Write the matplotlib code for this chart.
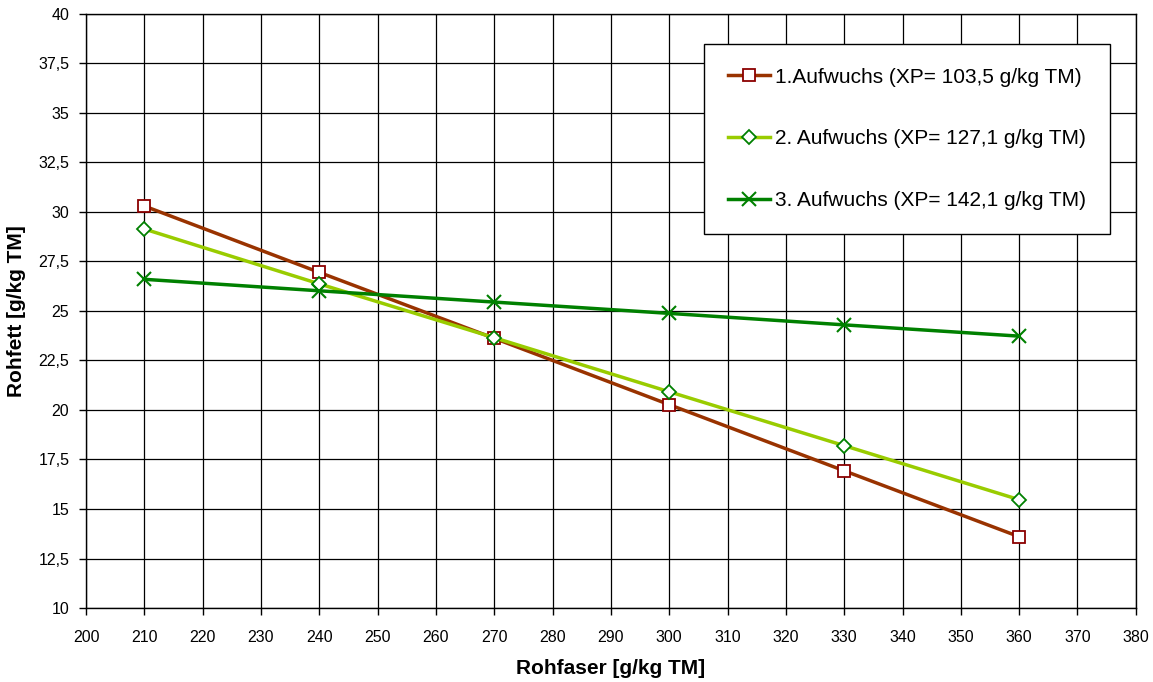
import matplotlib
matplotlib.use("Agg")
import matplotlib.pyplot as plt
import numpy as np

plt.rcParams['font.family'] = ['Liberation Sans', 'DejaVu Sans']

# Rohfaser values (x axis)
rohfaser = [210, 240, 270, 300, 330, 360]

# Rohfett values per Aufwuchs
aufwuchs1 = [30.3, 26.95, 23.62, 20.27, 16.93, 13.6]
aufwuchs2 = [29.14, 26.37, 23.65, 20.92, 18.2, 15.47]
aufwuchs3 = [26.6, 26.02, 25.45, 24.88, 24.3, 23.73]

labels = ['1.Aufwuchs (XP= 103,5 g/kg TM)',
          '2. Aufwuchs (XP= 127,1 g/kg TM)',
          '3. Aufwuchs (XP= 142,1 g/kg TM)']

x_ticks = np.arange(200, 381, 10)
y_ticks = np.arange(10, 40.1, 2.5)
y_ticklabels = [('%g' % v).replace('.', ',') for v in y_ticks]

fig = plt.figure(figsize=(11.53, 6.82), dpi=100)
ax = fig.add_axes([0.0746, 0.1085, 0.9105, 0.871])

ax.plot(rohfaser, aufwuchs1, color='#993300', lw=2.5, marker='s', ms=9,
        mfc='white', mec='#8B0000', mew=1.3, label=labels[0])
ax.plot(rohfaser, aufwuchs2, color='#99CC00', lw=2.5, marker='D', ms=7.5,
        mfc='white', mec='#008000', mew=1.3, label=labels[1])
ax.plot(rohfaser, aufwuchs3, color='#008000', lw=2.5, marker='x', ms=10,
        mec='#008000', mew=1.5, label=labels[2])

ax.set_xlim(200, 380)
ax.set_ylim(10, 40)
ax.set_xticks(x_ticks)
ax.set_yticks(y_ticks)
ax.set_yticklabels(y_ticklabels)
ax.tick_params(direction='out', length=5, width=1, labelsize=11.5)
ax.tick_params(axis='x', pad=11)
ax.tick_params(axis='y', pad=7)
ax.grid(True, color='black', lw=0.9)
ax.set_axisbelow(True)
for s in ax.spines.values():
    s.set_linewidth(1)

ax.set_xlabel('Rohfaser [g/kg TM]', fontsize=15, fontweight='bold', labelpad=10)
ax.set_ylabel('Rohfett [g/kg TM]', fontsize=15, fontweight='bold', labelpad=9)

leg = ax.legend(loc='upper right', bbox_to_anchor=(0.9755, 0.95), fontsize=15,
                frameon=True, fancybox=False, edgecolor='black', framealpha=1,
                borderpad=1.15, labelspacing=2.05, handlelength=2.0,
                handletextpad=0.25, borderaxespad=0)
leg.get_frame().set_linewidth(1)

fig.savefig('out.png', dpi=100)
